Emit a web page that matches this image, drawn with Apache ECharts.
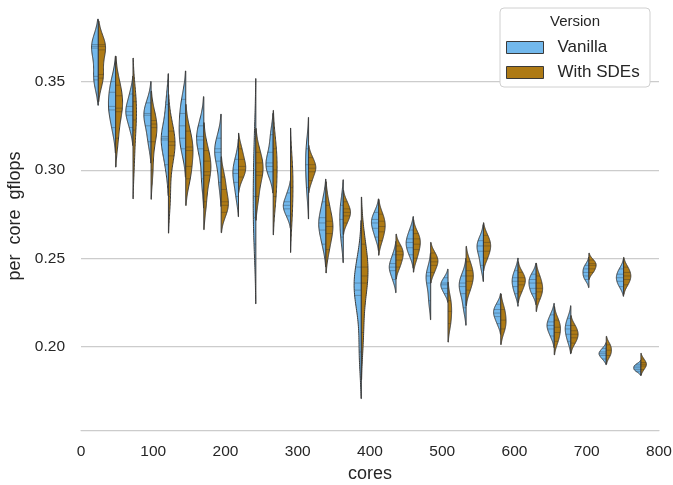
<!DOCTYPE html>
<html>
<head>
<meta charset="utf-8">
<script src="https://cdn.jsdelivr.net/npm/echarts@6/dist/echarts.min.js"></script>
<style>html,body{margin:0;padding:0;background:#fff;}#c{width:673px;height:485px;}</style>
</head>
<body>
<div id="c"></div>
<script>
// ---- data ----
const cores = [24,48,72,97,121,145,170,194,218,242,266,290,315,339,363,388,412,436,460,484,508,533,557,581,605,630,655,678,703,727,751,775];
const vanilla = [
 [0.351,0.353,0.369,0.370,0.371],
 [0.324,0.334,0.336,0.344,0.350],
 [0.324,0.331,0.333,0.336,0.343],
 [0.316,0.325,0.331,0.332,0.338],
 [0.303,0.317,0.318,0.319,0.337],
 [0.312,0.318,0.325,0.332,0.340],
 [0.295,0.312,0.317,0.319,0.325],
 [0.293,0.305,0.310,0.312,0.318],
 [0.285,0.293,0.298,0.300,0.306],
 [0.258,0.273,0.285,0.300,0.318],
 [0.299,0.302,0.304,0.310,0.320],
 [0.274,0.278,0.280,0.282,0.287],
 [0.290,0.303,0.312],
 [0.258,0.266,0.270,0.273,0.282],
 [0.262,0.272,0.280],
 [0.197,0.229,0.232,0.236,0.245],
 [0.262,0.267,0.270,0.272,0.276],
 [0.238,0.243,0.245,0.247,0.252],
 [0.252,0.256,0.259,0.261,0.266],
 [0.226,0.236,0.240,0.242],
 [0.230,0.233,0.235,0.236,0.239],
 [0.222,0.230,0.234,0.236,0.240],
 [0.246,0.254,0.257,0.260],
 [0.213,0.217,0.219,0.221,0.224],
 [0.230,0.234,0.237,0.239,0.243],
 [0.230,0.233,0.236,0.238,0.241],
 [0.206,0.210,0.212,0.214,0.218],
 [0.203,0.207,0.210,0.212,0.216],
 [0.238,0.240,0.242,0.244,0.246],
 [0.193,0.195,0.196,0.197,0.199],
 [0.234,0.237,0.239,0.241,0.244],
 [0.186,0.187,0.188,0.189,0.190]
];
const withSDEs = [
 [0.352,0.354,0.368,0.370,0.371],
 [0.318,0.333,0.335,0.342,0.348],
 [0.305,0.3226,0.3283,0.3387,0.342],
 [0.300,0.316,0.324,0.326,0.328],
 [0.285,0.308,0.314,0.316,0.322],
 [0.295,0.302,0.311,0.313,0.322],
 [0.282,0.297,0.299,0.305,0.311],
 [0.276,0.280,0.282,0.289,0.296],
 [0.296,0.300,0.302,0.306,0.312],
 [0.285,0.297,0.299,0.304,0.310],
 [0.285,0.300,0.312],
 [0.275,0.290,0.302],
 [0.294,0.299,0.301,0.303,0.307],
 [0.255,0.264,0.268,0.271,0.280],
 [0.270,0.274,0.276,0.278,0.282],
 [0.208,0.236,0.240,0.245,0.258],
 [0.260,0.265,0.268,0.271,0.275],
 [0.245,0.249,0.252,0.254,0.257],
 [0.250,0.255,0.258,0.261,0.264],
 [0.242,0.246,0.248,0.250,0.253],
 [0.213,0.220,0.226],
 [0.232,0.237,0.240,0.243,0.248],
 [0.250,0.254,0.257,0.259,0.263],
 [0.210,0.215,0.221],
 [0.231,0.235,0.237,0.239,0.242],
 [0.227,0.231,0.233,0.236,0.240],
 [0.203,0.208,0.211,0.215],
 [0.202,0.205,0.207,0.209,0.212],
 [0.242,0.244,0.246,0.247,0.249],
 [0.195,0.198,0.201],
 [0.235,0.238,0.240,0.242,0.245],
 [0.187,0.189,0.190,0.191,0.193]
];
const seriesNames = ['Vanilla', 'With SDEs'];
const xTicks = [0,100,200,300,400,500,600,700,800];
const yTicks = [0.20,0.25,0.30,0.35];

// ---- styling ----
const FONT = '"Liberation Sans", Arial, "DejaVu Sans", sans-serif';
const TXT = '#262626';
const COLORS = ['#72b8ec', '#ae7a15'];
const EDGE = '#3a3a3a';
const HALF_W = 10; // half violin width in x units

// ---- kernel density (Scott bandwidth, cut = 2, 100 points) ----
function kde(obs) {
  const n = obs.length;
  const mean = obs.reduce((a, b) => a + b, 0) / n;
  const sd = Math.sqrt(obs.reduce((a, b) => a + (b - mean) * (b - mean), 0) / (n - 1));
  const bw = Math.pow(n, -0.2) * sd;
  const lo = Math.min(...obs) - 2 * bw, hi = Math.max(...obs) + 2 * bw;
  const f = (y) => {
    let s = 0;
    for (const v of obs) { const z = (y - v) / bw; s += Math.exp(-0.5 * z * z); }
    return s / (n * bw * Math.sqrt(2 * Math.PI));
  };
  const ys = [], ds = [];
  let max = 0;
  for (let j = 0; j < 100; j++) {
    const y = lo + (hi - lo) * j / 99;
    const d = f(y);
    ys.push(y); ds.push(d);
    if (d > max) max = d;
  }
  return { ys, ds, max, f, obs };
}
const groups = cores.map((c, i) => {
  const a = kde(vanilla[i]), b = kde(withSDEs[i]);
  return { a, b, m: Math.max(a.max, b.max) };
});

function makeRender(sideIdx) {
  const side = sideIdx === 0 ? -1 : 1;
  return function (params, api) {
    const i = params.dataIndex;
    const x = api.value(0);
    const g = groups[i];
    const d = sideIdx === 0 ? g.a : g.b;
    const hw = api.size([HALF_W, 0])[0];
    const pts = [];
    const c0 = api.coord([x, d.ys[0]]);
    pts.push([c0[0], c0[1]]);
    for (let j = 0; j < d.ys.length; j++) {
      const p = api.coord([x, d.ys[j]]);
      pts.push([p[0] + side * hw * d.ds[j] / g.m, p[1]]);
    }
    const cN = api.coord([x, d.ys[d.ys.length - 1]]);
    pts.push([cN[0], cN[1]]);
    const children = [{
      type: 'polygon',
      shape: { points: pts },
      style: { fill: COLORS[sideIdx], stroke: EDGE, lineWidth: 1 }
    }];
    for (const v of d.obs) {
      const p = api.coord([x, v]);
      const w = hw * d.f(v) / g.m;
      children.push({
        type: 'line',
        shape: { x1: p[0], y1: p[1], x2: p[0] + side * w, y2: p[1] },
        style: { stroke: 'rgba(40,40,40,0.45)', lineWidth: 0.7 }
      });
    }
    return { type: 'group', children };
  };
}

const chart = echarts.init(document.getElementById('c'), null, { renderer: 'canvas' });
chart.setOption({
  animation: false,
  backgroundColor: '#ffffff',
  textStyle: { fontFamily: FONT },
  grid: { left: 81, right: 14, top: 2, bottom: 55, containLabel: false, outerBoundsMode: 'none' },
  xAxis: {
    type: 'value',
    min: xTicks[0], max: xTicks[xTicks.length - 1], interval: xTicks[1] - xTicks[0],
    name: 'cores', nameLocation: 'middle', nameGap: 33,
    nameTextStyle: { fontSize: 18, color: TXT, fontFamily: FONT },
    axisLine: { show: true, lineStyle: { color: '#cccccc', width: 1.25 } },
    axisTick: { show: false },
    splitLine: { show: false },
    axisLabel: { fontSize: 15.5, color: TXT, fontFamily: FONT, margin: 14 }
  },
  yAxis: {
    type: 'value',
    min: 0.1528, max: 0.3951,
    name: 'per  core  gflops', nameLocation: 'middle', nameGap: 54,
    nameTextStyle: { fontSize: 18, color: TXT, fontFamily: FONT },
    axisLine: { show: false },
    axisTick: { show: false },
    splitLine: { show: true, showMinLine: false, showMaxLine: false, lineStyle: { color: '#cccccc', width: 1.25 } },
    axisLabel: {
      fontSize: 15.5, color: TXT, fontFamily: FONT, margin: 16,
      showMinLabel: false, showMaxLabel: false,
      formatter: (v) => yTicks.some(t => Math.abs(t - v) < 1e-6) ? v.toFixed(2) : ''
    }
  },
  legend: {
    orient: 'vertical', left: 506, top: 39, padding: 0,
    itemWidth: 37, itemHeight: 12, itemGap: 8,
    icon: 'rect', z: 5,
    textStyle: { fontSize: 17, color: TXT, fontFamily: FONT, padding: [0, 0, 0, 9] },
    data: seriesNames.map((n, k) => ({ name: n, itemStyle: { color: COLORS[k], borderColor: EDGE, borderWidth: 1 } }))
  },
  graphic: [
    { type: 'rect', z: 3, shape: { x: 500, y: 8, width: 150, height: 79, r: 4 },
      style: { fill: '#ffffff', stroke: '#d0d0d0', lineWidth: 1 } },
    { type: 'text', z: 4, style: { x: 575, y: 22, text: 'Version', textAlign: 'center', textVerticalAlign: 'middle',
      font: '15px ' + FONT, fill: TXT } }
  ],
  series: seriesNames.map((n, k) => ({
    type: 'custom',
    name: n,
    itemStyle: { color: COLORS[k] },
    renderItem: makeRender(k),
    encode: { x: 0, y: 1 },
    data: cores.map((c, i) => [c, (k === 0 ? vanilla : withSDEs)[i][0]])
  }))
});
</script>
</body>
</html>
